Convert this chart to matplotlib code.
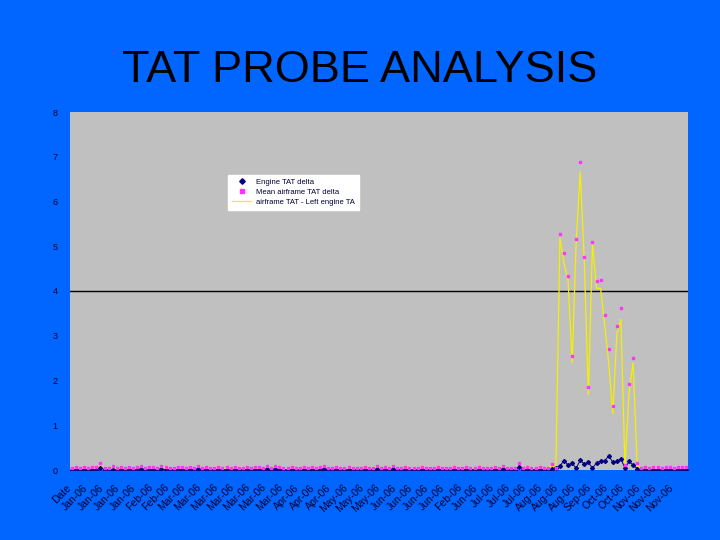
import matplotlib
matplotlib.use("Agg")
import matplotlib.pyplot as plt
import matplotlib.transforms as mtransforms
import numpy as np

plt.rcParams["font.family"] = ["Liberation Sans", "DejaVu Sans"]

# category labels shown on the x axis (every 4th category)
tick_labels = [
    "Date", "Jan-06", "Jan-06", "Jan-06", "Jan-06", "Feb-06", "Feb-06",
    "Mar-06", "Mar-06", "Mar-06", "Mar-06", "Mar-06", "Mar-06", "Mar-06",
    "Apr-06", "Apr-06", "Apr-06", "May-06", "May-06", "May-06",
    "Jun-06", "Jun-06", "Jun-06", "Jun-06", "Feb-06", "Jun-06",
    "Jul-06", "Jul-06", "Jul-06", "Aug-06", "Aug-06", "Aug-06",
    "Sep-06", "Oct-06", "Oct-06", "Nov-06", "Nov-06", "Nov-06",
]
LABEL_STEP = 4

# Engine TAT delta
engine_delta = [
    0.01, 0.00, 0.01, 0.00, 0.01, 0.00, 0.01, 0.05, 0.01, 0.00,
    0.01, 0.00, 0.01, 0.00, 0.01, 0.00, 0.01, 0.02, 0.00, 0.01,
    0.00, 0.01, 0.02, 0.00, 0.01, 0.00, 0.01, 0.00, 0.01, 0.00,
    0.01, 0.02, 0.00, 0.01, 0.00, 0.01, 0.00, 0.01, 0.00, 0.01,
    0.00, 0.01, 0.00, 0.01, 0.00, 0.01, 0.00, 0.01, 0.02, 0.00,
    0.02, 0.00, 0.01, 0.00, 0.01, 0.00, 0.01, 0.00, 0.01, 0.00,
    0.01, 0.00, 0.03, 0.00, 0.01, 0.00, 0.01, 0.00, 0.01, 0.00,
    0.01, 0.00, 0.01, 0.00, 0.01, 0.02, 0.00, 0.01, 0.00, 0.02,
    0.00, 0.01, 0.00, 0.01, 0.00, 0.01, 0.00, 0.01, 0.00, 0.01,
    0.00, 0.01, 0.00, 0.01, 0.00, 0.01, 0.00, 0.01, 0.00, 0.01,
    0.00, 0.01, 0.00, 0.01, 0.00, 0.01, 0.02, 0.00, 0.01, 0.00,
    0.06, 0.00, 0.01, 0.00, 0.01, 0.00, 0.01, 0.00,
    0.02, 0.05, 0.09, 0.21, 0.11, 0.15, 0.04, 0.22, 0.13, 0.17,
    0.04, 0.16, 0.19, 0.21, 0.31, 0.18, 0.19, 0.25, 0.04, 0.19,
    0.11, 0.03,
    0.00, 0.01, 0.00, 0.01, 0.00, 0.01, 0.00, 0.01, 0.00, 0.01,
    0.00, 0.01,
]

# Mean airframe TAT delta
airframe_delta = [
    0.05, 0.06, 0.04, 0.06, 0.05, 0.07, 0.06, 0.15, 0.05, 0.04,
    0.08, 0.05, 0.06, 0.04, 0.06, 0.05, 0.07, 0.09, 0.05, 0.06,
    0.07, 0.05, 0.08, 0.06, 0.04, 0.05, 0.06, 0.07, 0.05, 0.06,
    0.04, 0.09, 0.05, 0.06, 0.04, 0.05, 0.06, 0.05, 0.07, 0.04,
    0.06, 0.05, 0.04, 0.06, 0.05, 0.07, 0.06, 0.05, 0.08, 0.05,
    0.08, 0.06, 0.04, 0.05, 0.06, 0.05, 0.04, 0.06, 0.05, 0.06,
    0.05, 0.06, 0.10, 0.05, 0.04, 0.06, 0.05, 0.04, 0.06, 0.05,
    0.04, 0.05, 0.06, 0.05, 0.04, 0.08, 0.05, 0.06, 0.05, 0.08,
    0.05, 0.04, 0.06, 0.05, 0.04, 0.05, 0.06, 0.05, 0.04, 0.05,
    0.06, 0.05, 0.04, 0.05, 0.06, 0.05, 0.04, 0.06, 0.05, 0.05,
    0.06, 0.05, 0.04, 0.05, 0.06, 0.05, 0.08, 0.05, 0.04, 0.05,
    0.16, 0.05, 0.06, 0.04, 0.05, 0.06, 0.05, 0.04,
    0.13, 0.05, 5.27, 4.84, 4.34, 2.55, 5.16, 6.88, 4.77, 1.85,
    5.10, 4.22, 4.25, 3.46, 2.70, 1.44, 3.22, 3.61, 0.11, 1.92,
    2.51, 0.15,
    0.05, 0.06, 0.05, 0.07, 0.06, 0.05, 0.06, 0.07, 0.05, 0.06,
    0.07, 0.06,
]

# airframe TAT - Left engine TAT
airframe_minus_engine = [
    0.02, 0.01, 0.02, 0.01, 0.02, 0.01, 0.03, 0.09, 0.02, 0.01,
    0.09, 0.02, 0.01, 0.02, 0.01, 0.02, 0.03, 0.09, 0.02, 0.01,
    0.02, 0.01, 0.09, 0.02, 0.01, 0.02, 0.01, 0.03, 0.02, 0.01,
    0.02, 0.09, 0.02, 0.01, 0.02, 0.01, 0.02, 0.01, 0.03, 0.02,
    0.01, 0.02, 0.01, 0.02, 0.01, 0.03, 0.02, 0.01, 0.09, 0.02,
    0.09, 0.01, 0.02, 0.01, 0.02, 0.01, 0.02, 0.01, 0.02, 0.01,
    0.02, 0.03, 0.09, 0.02, 0.01, 0.02, 0.01, 0.02, 0.01, 0.02,
    0.01, 0.02, 0.01, 0.02, 0.03, 0.09, 0.02, 0.01, 0.03, 0.09,
    0.02, 0.01, 0.02, 0.01, 0.02, 0.01, 0.02, 0.01, 0.02, 0.01,
    0.02, 0.01, 0.02, 0.01, 0.02, 0.01, 0.02, 0.01, 0.02, 0.01,
    0.02, 0.01, 0.02, 0.01, 0.02, 0.03, 0.09, 0.02, 0.01, 0.02,
    0.12, 0.02, 0.01, 0.02, 0.01, 0.02, 0.01, 0.02,
    0.11, 0.00, 5.18, 4.63, 4.23, 2.40, 5.12, 6.66, 4.64, 1.68,
    5.06, 4.06, 4.06, 3.25, 2.39, 1.26, 3.03, 3.36, 0.07, 1.73,
    2.40, 0.10,
    0.02, 0.01, 0.02, 0.01, 0.02, 0.01, 0.02, 0.01, 0.02, 0.01,
    0.02, 0.01,
]

LIMIT = 4

BLUE = "#0066ff"
GREY = "#c0c0c0"
TEXT = "#000033"

x = np.arange(len(airframe_delta))

fig = plt.figure(figsize=(7.2, 5.4), dpi=100, facecolor=BLUE)
ax = fig.add_axes([70 / 720, 1 - 470 / 540, 618 / 720, 358 / 540])
ax.set_facecolor(GREY)
for s in ax.spines.values():
    s.set_visible(False)

ax.plot(x, airframe_minus_engine, color="#f5f000", lw=0.9, clip_on=False,
        label="airframe TAT - Left engine TA", zorder=2)
ax.plot(x, engine_delta, color="#000080", lw=0.7, zorder=3)
ax.plot(x, engine_delta, ls="none", marker="D", ms=2.0, color="#000080",
        label="Engine TAT delta", zorder=4)
ax.plot(x, airframe_delta, ls="none", marker="s", ms=2.1, color="#ff33ff",
        mec="#ff33ff", clip_on=False, label="Mean airframe TAT delta", zorder=5)

ax.axhline(LIMIT, color="black", lw=1.0, zorder=1)

ax.set_xlim(-0.5, len(airframe_delta) - 0.5)
ax.set_ylim(0, 8)
ax.set_yticks(range(0, 9))
ax.tick_params(axis="y", length=0, pad=9, labelsize=6.5, labelcolor=TEXT)

tick_pos = np.arange(len(tick_labels)) * LABEL_STEP
ax.set_xticks(tick_pos)
ax.set_xticklabels(tick_labels, rotation=45, ha="right", va="top",
                   rotation_mode="anchor", fontsize=7.5, color=TEXT)
ax.tick_params(axis="x", length=0, pad=9)
shift = mtransforms.ScaledTranslation(-6 / 100, 0, fig.dpi_scale_trans)
for lbl in ax.get_xticklabels():
    lbl.set_transform(lbl.get_transform() + shift)

handles, labels = ax.get_legend_handles_labels()
order = [1, 2, 0]
leg = ax.legend([handles[i] for i in order], [labels[i] for i in order],
                loc="upper left", bbox_to_anchor=(0.25, 0.835),
                fontsize=5.5, frameon=True, fancybox=False, framealpha=1,
                edgecolor="white", borderpad=0.5, labelspacing=0.35,
                handlelength=2.5, handletextpad=0.6, markerscale=1.4)
for t in leg.get_texts():
    t.set_color(TEXT)

fig.text(0.5, 1 - 70 / 540, "TAT PROBE ANALYSIS", ha="center", va="center",
         fontsize=32.5, color="black")

fig.savefig("out.png", dpi=100, facecolor=BLUE)
